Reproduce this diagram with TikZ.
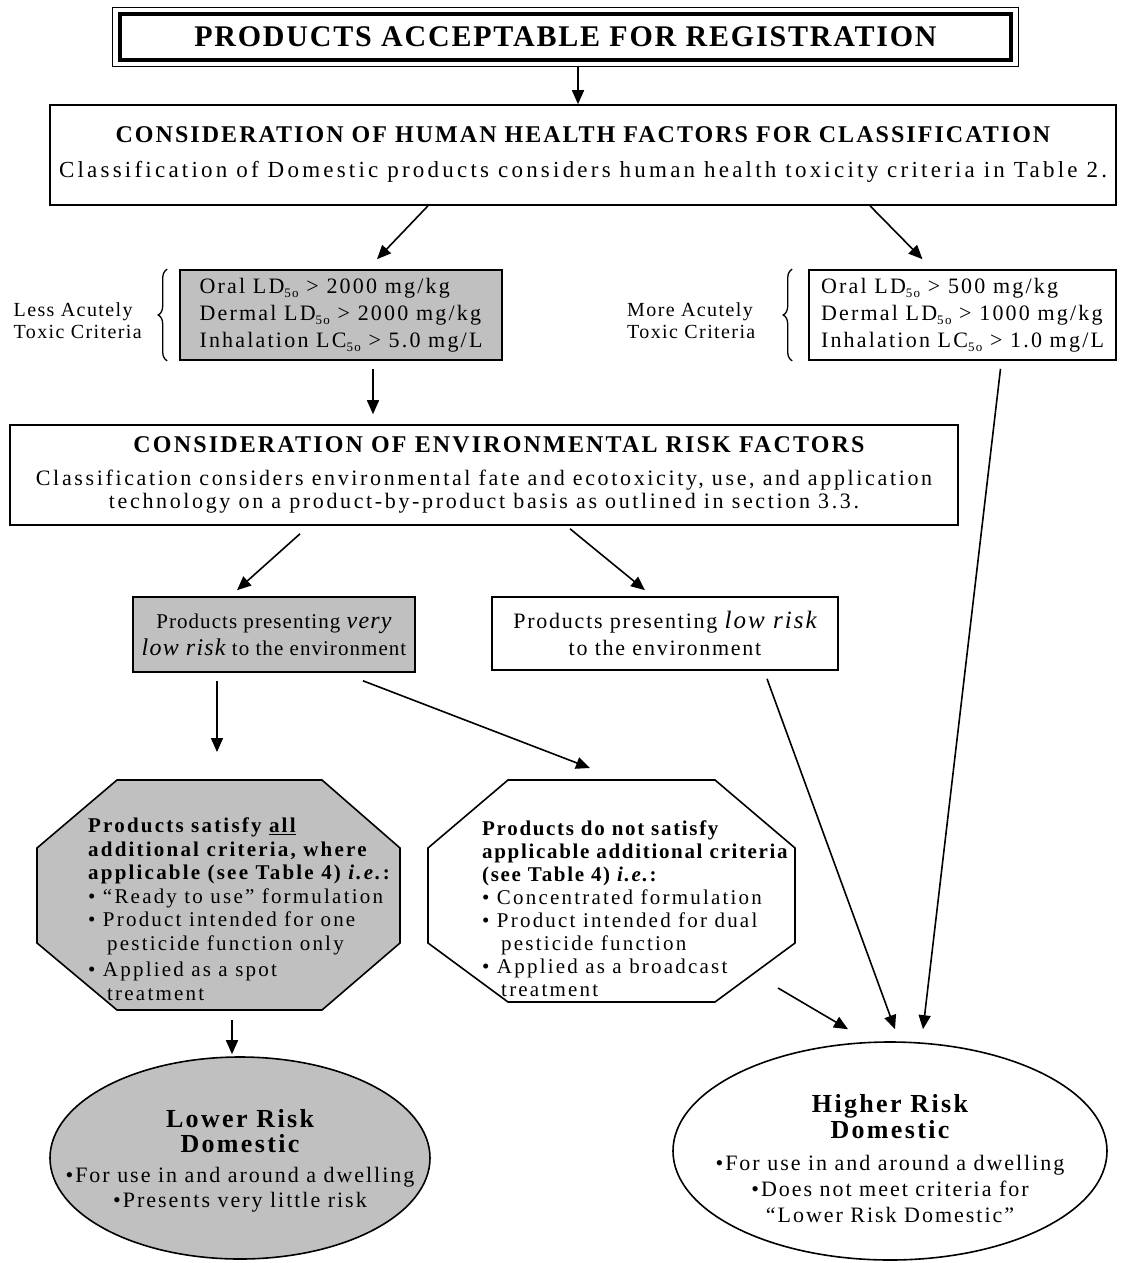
\documentclass[tikz,border=0pt]{standalone}
\usepackage{fontspec}
\setmainfont{Liberation Serif}
\usetikzlibrary{shapes.geometric,arrows.meta,calc,decorations.pathreplacing}
\definecolor{boxgray}{RGB}{192,192,192}
\newcommand\lsub[1]{\raisebox{-0.4ex}{\fontsize{13}{13}\selectfont #1}}
\newcommand\tx[3]{\fontsize{#1}{#2}\selectfont\addfontfeature{LetterSpace=#3}}
\tikzset{
  box/.style={draw, line width=1.6pt, inner sep=0pt, align=center},
  arr/.style={-{Triangle[length=14pt,width=12pt]}, line width=1.6pt},
  octa/.style={draw, line width=1.6pt},
  lbl/.style={inner sep=0pt, align=left},
  brc/.style={decorate, decoration={brace, amplitude=9pt}, line width=1.3pt}
}
\begin{document}
\begin{tikzpicture}[x=1pt,y=-1pt]
\useasboundingbox (0,0) rectangle (1120,1263);
% title
\node[box, line width=3.5pt, minimum width=891pt, minimum height=46pt, font=\tx{30}{30}{6}\bfseries] (title) at (565.5,37) {PRODUCTS ACCEPTABLE FOR REGISTRATION};
\draw[line width=1.2pt] ($(title.north west)+(-6,-5)$) rectangle ($(title.south east)+(6,5)$);
% human health
\node[box, minimum width=1066pt, minimum height=100pt, font=\fontsize{23}{26}\selectfont] (hh) at (583,155)
 {{\tx{24}{26}{8.5}\bfseries CONSIDERATION OF HUMAN HEALTH FACTORS FOR CLASSIFICATION}\\[9pt]
  {\tx{23}{26}{14}Classification of Domestic products considers human health toxicity criteria in Table 2.}};
% criteria boxes
\node[box, fill=boxgray, minimum width=322pt, minimum height=90pt, align=left, font=\tx{22}{27}{10}] (crit1) at (341,315)
 {Oral LD\lsub{5o} > 2000 mg/kg\\Dermal LD\lsub{5o} > 2000 mg/kg\\Inhalation LC\lsub{5o} > 5.0 mg/L};
\node[box, minimum width=307pt, minimum height=90pt, align=left, font=\tx{22}{27}{10}] (crit2) at (962.5,315)
 {Oral LD\lsub{5o} > 500 mg/kg\\Dermal LD\lsub{5o} > 1000 mg/kg\\Inhalation LC\lsub{5o} > 1.0 mg/L};
\draw[brc] ($(crit1.south west)+(-12,0)$) -- ($(crit1.north west)+(-12,0)$);
\draw[brc] ($(crit2.south west)+(-16,0)$) -- ($(crit2.north west)+(-16,0)$);
\node[lbl, anchor=east, font=\tx{20}{22}{7}] (lbl1) at (142,321) {Less Acutely\\Toxic Criteria};
\node[lbl, anchor=west, font=\tx{20}{22}{7}] (lbl2) at (627,321) {More Acutely\\Toxic Criteria};
% environment
\node[box, minimum width=948pt, minimum height=100pt, font=\fontsize{22}{23}\selectfont] (env) at (484,475)
 {{\tx{24}{26}{9}\bfseries\hspace*{30pt}CONSIDERATION OF ENVIRONMENTAL RISK FACTORS}\\[10pt]
  {\tx{22}{23}{12}Classification considers environmental fate and ecotoxicity, use, and application}\\
  {\tx{22}{23}{12}technology on a product-by-product basis as outlined in section 3.3.}};
% risk boxes
\node[box, fill=boxgray, minimum width=282pt, minimum height=75pt, font=\tx{21}{27}{5}] (vlow) at (274,634.5)
 {Products presenting {\fontsize{24}{27}\selectfont\itshape very}\\{\fontsize{24}{27}\selectfont\itshape low risk} to the environment};
\node[box, minimum width=346pt, minimum height=73pt, font=\tx{22}{27}{8}] (low) at (665,633.5)
 {Products presenting {\fontsize{25}{27}\selectfont\itshape low risk}\\to the environment};
% octagons
\draw[octa, fill=boxgray] (117,780) -- (322,780) -- (400,848) -- (400,943) -- (322,1010) -- (117,1010) -- (37,943) -- (37,848) -- cycle;
\draw[octa] (508,780) -- (715,780) -- (795,848) -- (795,943) -- (715,1002) -- (508,1002) -- (428,943) -- (428,848) -- cycle;
\coordinate (o1top) at (217,752);
\coordinate (o1bot) at (232,1020);
\coordinate (o2top) at (590,768);
\coordinate (o2cor) at (778,988);
\node[lbl, anchor=west, font=\tx{21}{23.5}{10.5}] (oct1) at (88,909)
 {{\bfseries Products satisfy \underline{all}}\\{\bfseries additional criteria, where}\\{\bfseries applicable (see Table 4) \textit{i.e.}:}\\
  • “Ready to use” formulation\\• Product intended for one\\\hspace*{19pt}pesticide function only\\[3pt]• Applied as a spot\\\hspace*{19pt}treatment};
\node[lbl, anchor=west, font=\tx{21}{23}{10.5}] (oct2) at (482,909)
 {{\bfseries\addfontfeature{LetterSpace=8} Products do not satisfy}\\{\bfseries\addfontfeature{LetterSpace=8} applicable additional criteria}\\{\bfseries\addfontfeature{LetterSpace=8} (see Table 4) \textit{i.e.}:}\\
  • Concentrated formulation\\• Product intended for dual\\\hspace*{19pt}pesticide function\\• Applied as a broadcast\\\hspace*{19pt}treatment};
% ellipses
\node[ellipse, draw, line width=1.6pt, fill=boxgray, minimum width=380pt, minimum height=202pt, inner sep=0pt] (lre) at (240,1158) {};
\node[lbl, align=center, font=\tx{22}{25}{9}] (lret) at (240,1161)
 {{\fontsize{26}{29}\selectfont\bfseries Lower Risk}\\{\fontsize{26}{29}\selectfont\bfseries Domestic}\\[5pt]•For use in and around a dwelling\\•Presents very little risk};
\node[ellipse, draw, line width=1.6pt, minimum width=434pt, minimum height=218pt, inner sep=0pt] (hre) at (890,1151) {};
\node[lbl, align=center, font=\tx{22}{26}{9}] (hret) at (890,1159)
 {{\fontsize{26}{29}\selectfont\bfseries Higher Risk}\\{\fontsize{26}{29}\selectfont\bfseries Domestic}\\[6pt]•For use in and around a dwelling\\•Does not meet criteria for\\“Lower Risk Domestic”};
% arrows
\draw[arr] ($(title.south)+(12.5,5)$) -- ($(hh.north)+(-5,0)$);
\draw[arr] ($(hh.south)+(-155,0)$) -- ($(crit1.north)+(36,-10)$);
\draw[arr] ($(hh.south)+(287,0)$) -- ($(crit2.north)+(-40,-10)$);
\draw[arr] ($(crit1.south)+(32,8)$) -- ($(env.north)+(-111,-10)$);
\draw[arr] ($(crit2.south)+(38,8)$) -- ($(hre.north)+(33,-12)$);
\draw[arr] ($(env.south)+(-184,8)$) -- ($(vlow.north)+(-37,-6)$);
\draw[arr] ($(env.south)+(86,3)$) -- ($(low.north)+(-20,-6)$);
\draw[arr] ($(vlow.south)+(-57,8)$) -- (o1top);
\draw[arr] ($(vlow.south)+(89,8)$) -- (o2top);
\draw[arr] ($(low.south)+(102,8)$) -- ($(hre.north)+(5,-12)$);
\draw[arr] (o2cor) -- ($(hre.north)+(-42,-12)$);
\draw[arr] (o1bot) -- ($(lre.north)+(-8,-2)$);
\end{tikzpicture}
\end{document}
